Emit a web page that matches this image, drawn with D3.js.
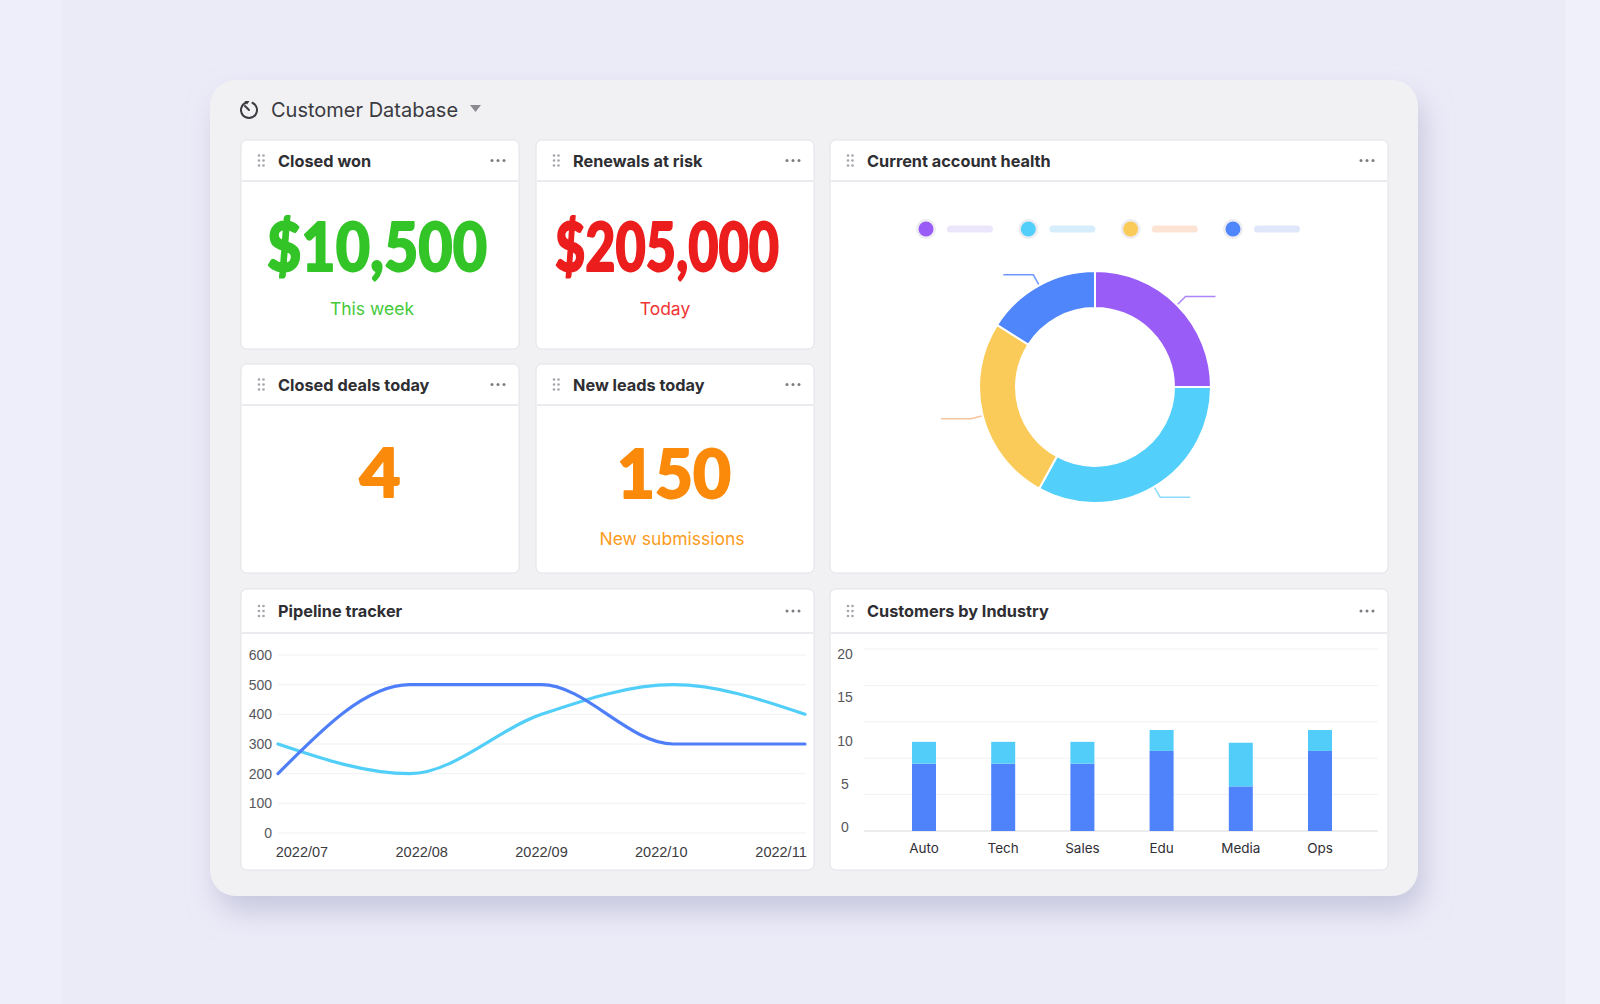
<!DOCTYPE html>
<html>
<head>
<meta charset="utf-8">
<script src="https://cdn.jsdelivr.net/npm/d3@7"></script>
<style>
  body { margin: 0; background: #ececf8; overflow: hidden; }
  svg { display: block; }
</style>
</head>
<body>
<div id="chart"></div>
<script>
// ---- data ----
const kpiTitles = ['Closed won', 'Renewals at risk', 'Closed deals today', 'New leads today'];
const kpiValues = ['$10,500', '$205,000', '4', '150'];
const kpiNotes = ['This week', 'Today', '', 'New submissions'];

const healthValues = [25, 33, 26, 16];

const pipelineMonths = ['2022/07', '2022/08', '2022/09', '2022/10', '2022/11'];
const pipelineBlue = [200, 500, 500, 300, 300];
const pipelineCyan = [300, 200, 400, 500, 400];
const pipelineTicks = [0, 100, 200, 300, 400, 500, 600];

const industries = ['Auto', 'Tech', 'Sales', 'Edu', 'Media', 'Ops'];
const industryBase = [7.4, 7.4, 7.4, 8.8, 4.9, 8.8];
const industryTop = [2.4, 2.4, 2.4, 2.3, 4.8, 2.3];
const industryTicks = [0, 5, 10, 15, 20];
const industryGrid = [0, 4, 8, 12, 16, 20];

// ---- page ----
const width = 1600, height = 1004;
const svg = d3.select('#chart').append('svg')
  .attr('width', width)
  .attr('height', height);

const defs = svg.append('defs');
const shadow = defs.append('filter').attr('id', 'shadow')
  .attr('x', '-10%').attr('y', '-10%').attr('width', '125%').attr('height', '125%');
shadow.append('feDropShadow')
  .attr('dx', 6).attr('dy', 16).attr('stdDeviation', 14)
  .attr('flood-color', '#a4a4c4').attr('flood-opacity', 0.5);

svg.append('rect').attr('width', width).attr('height', height).attr('fill', '#ebebf8');
svg.append('rect').attr('x', 0).attr('width', 62).attr('height', height).attr('fill', '#eeeefa');
svg.append('rect').attr('x', 1565).attr('width', 35).attr('height', height).attr('fill', '#f0f0fb');

// big rounded panel
svg.append('rect')
  .attr('x', 210).attr('y', 80).attr('width', 1208).attr('height', 816)
  .attr('rx', 26)
  .attr('fill', '#f1f1f4')
  .attr('filter', 'url(#shadow)');

// panel title with history icon
const head = svg.append('g');
head.append('path')
  .attr('d', d3.arc()({innerRadius: 7, outerRadius: 9, startAngle: 0.35, endAngle: 2 * Math.PI - 0.35}))
  .attr('transform', 'translate(249,110)')
  .attr('fill', '#3c3c40');
head.append('path')
  .attr('d', 'M249,110 L245,106')
  .attr('stroke', '#3c3c40').attr('stroke-width', 2).attr('stroke-linecap', 'round');
head.append('path')
  .attr('d', 'M244.5,101 L249.5,101 L247,104.5 Z')
  .attr('fill', '#3c3c40');
head.append('text')
  .attr('x', 271).attr('y', 117)
  .attr('font-family', 'Inter, sans-serif')
  .attr('font-size', 20)
  .attr('fill', '#3a3a3f')
  .text('Customer Database');
head.append('path')
  .attr('d', 'M470,105 L481,105 L475.5,112 Z')
  .attr('fill', '#8a8a90');

// ---- cards ----
const cards = [
  {x: 241, y: 140, w: 278, h: 209, hh: 41, title: kpiTitles[0]},
  {x: 536, y: 140, w: 278, h: 209, hh: 41, title: kpiTitles[1]},
  {x: 830, y: 140, w: 558, h: 433, hh: 41, title: 'Current account health'},
  {x: 241, y: 364, w: 278, h: 209, hh: 41, title: kpiTitles[2]},
  {x: 536, y: 364, w: 278, h: 209, hh: 41, title: kpiTitles[3]},
  {x: 241, y: 589, w: 573, h: 281, hh: 44, title: 'Pipeline tracker'},
  {x: 830, y: 589, w: 558, h: 281, hh: 44, title: 'Customers by Industry'}
];

const card = svg.selectAll('.card')
  .data(cards)
  .enter()
  .append('g')
  .attr('class', 'card')
  .attr('transform', d => `translate(${d.x},${d.y})`);

card.append('rect')
  .attr('width', d => d.w)
  .attr('height', d => d.h)
  .attr('rx', 6)
  .attr('fill', '#fff')
  .attr('stroke', '#e2e2e7');

card.append('line')
  .attr('x1', 1).attr('x2', d => d.w - 1)
  .attr('y1', d => d.hh).attr('y2', d => d.hh)
  .attr('stroke', '#ebebef').attr('stroke-width', 2);

card.append('text')
  .attr('x', 37)
  .attr('y', d => d.hh / 2 + 6)
  .attr('font-family', 'Inter, sans-serif')
  .attr('font-weight', 700)
  .attr('font-size', 16.3)
  .attr('fill', '#2e2e33')
  .text(d => d.title);

// drag handle (2 x 3 dots) and menu dots
card.each(function(d) {
  const g = d3.select(this);
  for (let c = 0; c < 2; c++) {
    for (let r = 0; r < 3; r++) {
      g.append('circle')
        .attr('cx', 18 + c * 4.5)
        .attr('cy', d.hh / 2 - 5 + r * 5)
        .attr('r', 1.3)
        .attr('fill', '#a5a5ab');
    }
  }
  for (let i = 0; i < 3; i++) {
    g.append('circle')
      .attr('cx', d.w - 27 + i * 6)
      .attr('cy', d.hh / 2)
      .attr('r', 1.5)
      .attr('fill', '#7c7c82');
  }
});

// ---- KPI numbers ----
const kpiCards = [cards[0], cards[1], cards[3], cards[4]];
const kpiColors = ['#33c428', '#ec1d1d', '#fb8a0a', '#fb8a0a'];
const kpiNoteColors = ['#45c93a', '#ef3434', '#fb9b1c', '#fb9b1c'];
const kpiLayout = [
  {dx: -3, len: 220, base: 131, ndx: -8, note: 175},
  {dx: -8, len: 224, base: 131, ndx: -10, note: 175},
  {dx: 0, len: 41, base: 133, ndx: 0, note: 181},
  {dx: -1, len: 114, base: 134, ndx: -3, note: 181}
];

kpiValues.forEach((v, i) => {
  const c = kpiCards[i], l = kpiLayout[i];
  const cx = c.x + c.w / 2;
  svg.append('text')
    .attr('x', cx + l.dx)
    .attr('y', c.y + l.base)
    .attr('text-anchor', 'middle')
    .attr('font-family', 'Lato, sans-serif')
    .attr('font-weight', 900)
    .attr('font-size', 67)
    .attr('textLength', l.len)
    .attr('lengthAdjust', 'spacingAndGlyphs')
    .attr('fill', kpiColors[i])
    .attr('stroke', kpiColors[i])
    .attr('stroke-width', 1.8)
    .attr('stroke-linejoin', 'round')
    .text(v);
  if (kpiNotes[i]) {
    svg.append('text')
      .attr('x', cx + l.ndx)
      .attr('y', c.y + l.note)
      .attr('text-anchor', 'middle')
      .attr('font-family', 'Inter, sans-serif')
      .attr('font-size', 17.5)
      .attr('fill', kpiNoteColors[i])
      .text(kpiNotes[i]);
  }
});

// ---- donut: current account health ----
const healthColors = ['#995cf6', '#52cffb', '#fbcb5a', '#4f86fb'];
const healthPills = ['#ebe6fb', '#d6eefb', '#fde3d3', '#e0e7fb'];
const healthLeaders = ['#ad85f8', '#8fdcfa', '#f8c49c', '#7098fa'];

const legendX = d3.scalePoint().domain(d3.range(healthValues.length)).range([926, 1233]);
const legend = svg.selectAll('.legend')
  .data(healthValues)
  .enter()
  .append('g')
  .attr('class', 'legend')
  .attr('transform', (d, i) => `translate(${legendX(i)},229)`);
legend.append('circle').attr('r', 10).attr('fill', '#ececf1');
legend.append('circle').attr('r', 7.5).attr('fill', (d, i) => healthColors[i]);
legend.append('rect')
  .attr('x', 21).attr('y', -3.5).attr('width', 46).attr('height', 7).attr('rx', 3.5)
  .attr('fill', (d, i) => healthPills[i]);

const pie = d3.pie().sort(null).value(d => d);
const arcs = pie(healthValues);
const outerR = 116, innerR = 79;
const arc = d3.arc().innerRadius(innerR).outerRadius(outerR);
const donut = svg.append('g').attr('transform', 'translate(1095,387)');

donut.selectAll('path.slice')
  .data(arcs)
  .enter()
  .append('path')
  .attr('class', 'slice')
  .attr('d', arc)
  .attr('fill', (d, i) => healthColors[i])
  .attr('stroke', '#fff')
  .attr('stroke-width', 2);

function polar(a, r) { return [Math.sin(a) * r, -Math.cos(a) * r]; }
donut.selectAll('polyline')
  .data(arcs)
  .enter()
  .append('polyline')
  .attr('points', d => {
    const a = (d.startAngle + d.endAngle) / 2;
    const p1 = polar(a, outerR + 1);
    const p2 = polar(a, outerR + 12);
    const side = Math.sin(a) >= 0 ? 1 : -1;
    const p3 = [p2[0] + side * 30, p2[1]];
    return [p1, p2, p3].map(p => p.join(',')).join(' ');
  })
  .attr('fill', 'none')
  .attr('stroke', (d, i) => healthLeaders[i])
  .attr('stroke-width', 1.5);

// ---- line chart: pipeline tracker ----
const lx = d3.scalePoint().domain(pipelineMonths).range([278, 805]);
const lxLabels = d3.scalePoint().domain(pipelineMonths).range([278, 805]).padding(0.2);
const ly = d3.scaleLinear().domain([0, 600]).range([833, 655]);

const lineG = svg.append('g');
lineG.selectAll('.grid')
  .data(pipelineTicks)
  .enter()
  .append('line')
  .attr('class', 'grid')
  .attr('x1', 278).attr('x2', 806)
  .attr('y1', d => ly(d)).attr('y2', d => ly(d))
  .attr('stroke', '#f1f1f3');

lineG.selectAll('.ylab')
  .data(pipelineTicks)
  .enter()
  .append('text')
  .attr('class', 'ylab')
  .attr('x', 272)
  .attr('y', d => ly(d) + 5)
  .attr('text-anchor', 'end')
  .attr('font-family', 'Liberation Sans, Arial, sans-serif')
  .attr('font-size', 14)
  .attr('fill', '#56565c')
  .text(d => d);

lineG.selectAll('.xlab')
  .data(pipelineMonths)
  .enter()
  .append('text')
  .attr('class', 'xlab')
  .attr('x', d => lxLabels(d))
  .attr('y', 857)
  .attr('text-anchor', 'middle')
  .attr('font-family', 'Liberation Sans, Arial, sans-serif')
  .attr('font-size', 14.5)
  .attr('fill', '#3c3c42')
  .text(d => d);

const line = d3.line()
  .x((d, i) => lx(pipelineMonths[i]))
  .y(d => ly(d))
  .curve(d3.curveMonotoneX);

lineG.append('path')
  .datum(pipelineCyan)
  .attr('d', line)
  .attr('fill', 'none')
  .attr('stroke', '#52cff8')
  .attr('stroke-width', 3.2)
  .attr('stroke-linecap', 'round');

lineG.append('path')
  .datum(pipelineBlue)
  .attr('d', line)
  .attr('fill', 'none')
  .attr('stroke', '#4f7ff8')
  .attr('stroke-width', 3.2)
  .attr('stroke-linecap', 'round');

// ---- stacked bars: customers by industry ----
const bx = d3.scalePoint().domain(industries).range([924, 1320]);
const by = d3.scaleLinear().domain([0, 20]).range([831, 649]);
// the tick labels sit on a slightly tighter scale than the bars
const byLabels = d3.scaleLinear().domain([0, 20]).range([827, 654]);
const barW = 24;

const barG = svg.append('g');
barG.selectAll('.grid')
  .data(industryGrid)
  .enter()
  .append('line')
  .attr('class', 'grid')
  .attr('x1', 864).attr('x2', 1378)
  .attr('y1', d => by(d)).attr('y2', d => by(d))
  .attr('stroke', d => d === 0 ? '#e6e6ea' : '#f1f1f3')
  .attr('stroke-width', d => d === 0 ? 1.5 : 1);

barG.selectAll('.ylab')
  .data(industryTicks)
  .enter()
  .append('text')
  .attr('class', 'ylab')
  .attr('x', 845)
  .attr('y', d => byLabels(d) + 5)
  .attr('text-anchor', 'middle')
  .attr('font-family', 'Liberation Sans, Arial, sans-serif')
  .attr('font-size', 14)
  .attr('fill', '#56565c')
  .text(d => d);

barG.selectAll('.base')
  .data(industryBase)
  .enter()
  .append('rect')
  .attr('class', 'base')
  .attr('x', (d, i) => bx(industries[i]) - barW / 2)
  .attr('y', d => by(d))
  .attr('width', barW)
  .attr('height', d => by(0) - by(d))
  .attr('fill', '#4f83fb');

barG.selectAll('.top')
  .data(industryTop)
  .enter()
  .append('rect')
  .attr('class', 'top')
  .attr('x', (d, i) => bx(industries[i]) - barW / 2)
  .attr('y', (d, i) => by(industryBase[i] + d))
  .attr('width', barW)
  .attr('height', (d, i) => by(industryBase[i]) - by(industryBase[i] + d))
  .attr('fill', '#52cdfa');

barG.selectAll('.xlab')
  .data(industries)
  .enter()
  .append('text')
  .attr('class', 'xlab')
  .attr('x', d => bx(d))
  .attr('y', 853)
  .attr('text-anchor', 'middle')
  .attr('font-family', 'Inter, sans-serif')
  .attr('font-size', 13.5)
  .attr('fill', '#2f2f35')
  .text(d => d);
</script>
</body>
</html>
